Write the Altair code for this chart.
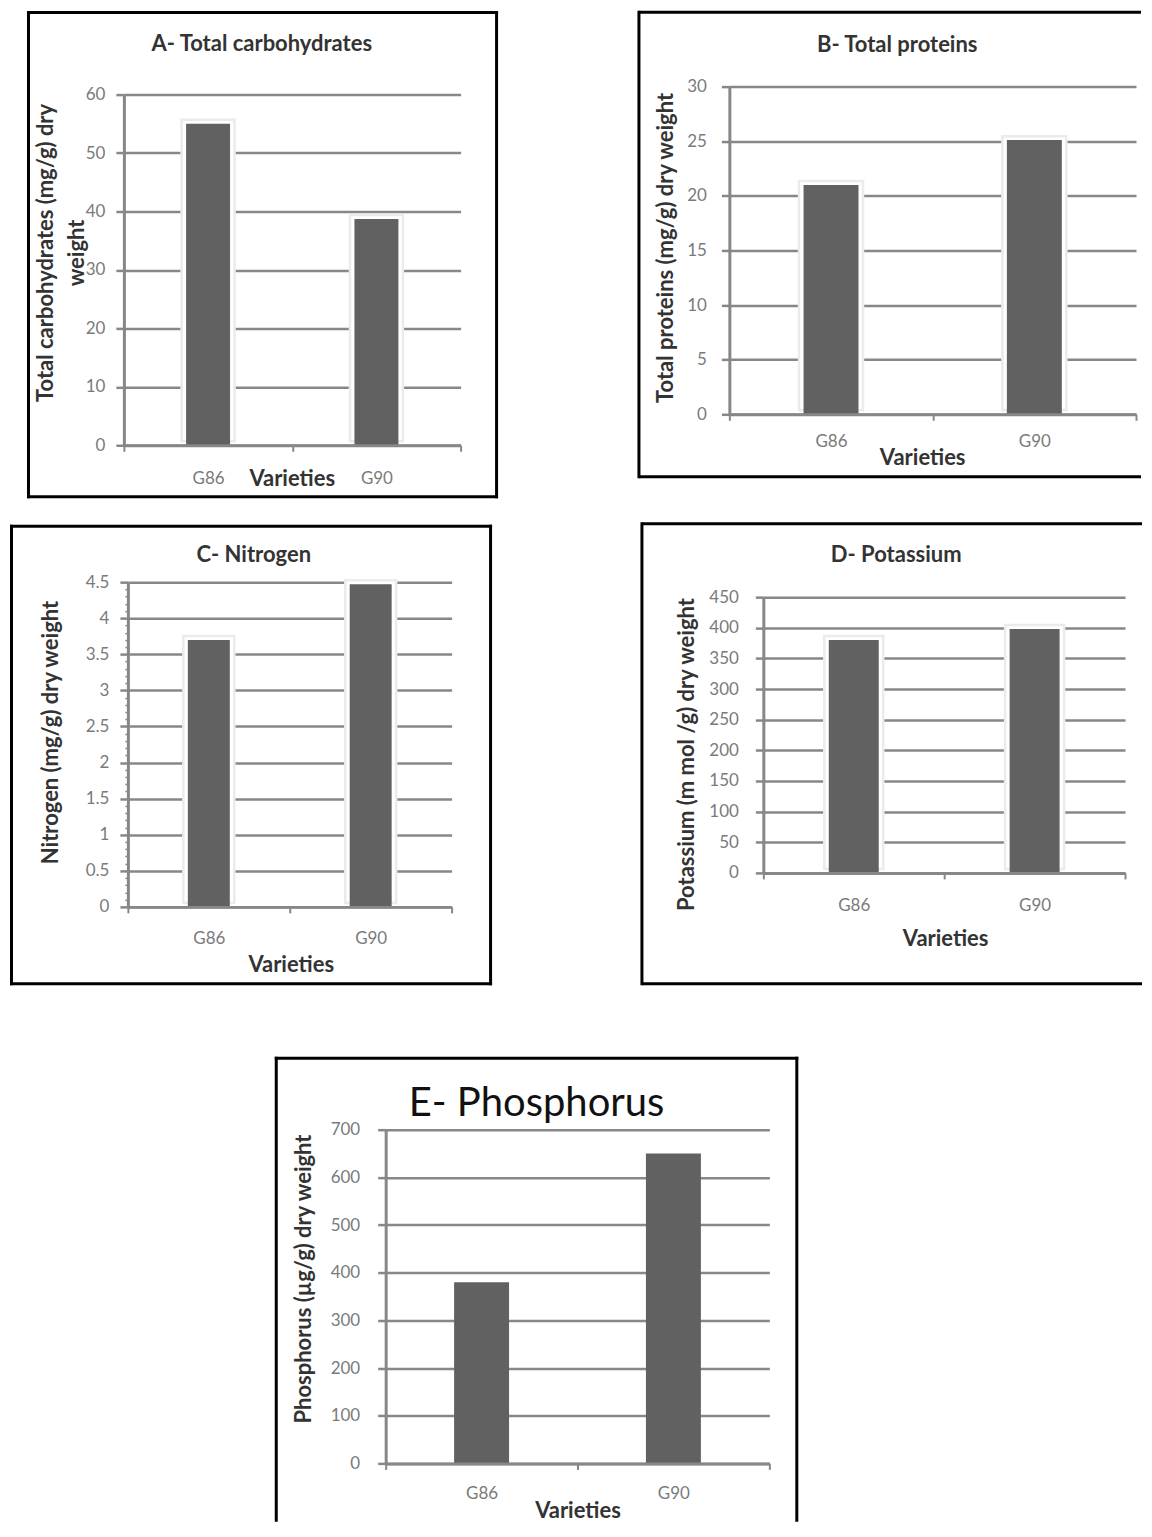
import altair as alt
import pandas as pd

# ---------------- data ----------------
varieties = ["G86", "G90"]
carbohydrates = [55.0, 38.7]
proteins = [21.0, 25.1]
nitrogen = [3.70, 4.47]
potassium = [380, 398]
phosphorus = [380, 650]

carb_ticks = [0, 10, 20, 30, 40, 50, 60]
prot_ticks = [0, 5, 10, 15, 20, 25, 30]
nit_ticks = [0, 0.5, 1, 1.5, 2, 2.5, 3, 3.5, 4, 4.5]
pot_ticks = [0, 50, 100, 150, 200, 250, 300, 350, 400, 450]
phos_ticks = [0, 100, 200, 300, 400, 500, 600, 700]

titles = ["A- Total carbohydrates", "B- Total proteins", "C- Nitrogen",
          "D- Potassium", "E- Phosphorus"]
y_titles = [["Total carbohydrates (mg/g) dry", "weight"],
            "Total proteins (mg/g) dry weight",
            "Nitrogen (mg/g) dry weight",
            "Potassium (m mol /g) dry weight",
            "Phosphorus (\u00b5g/g) dry weight"]
x_title = "Varieties"

# ---------------- styling ----------------
FONT = "Lato"
GRID = "#878787"
BAR = "#616161"
LABEL = "#7a7a7a"
TEXT = "#333333"
RIGHT = 1142  # right end of the open frames (page x)

one = pd.DataFrame({"k": [0]})


def rect_frame(x1, y1, x2, y2):
    return [(x1, y1, x2, y1), (x2, y1, x2, y2), (x2, y2, x1, y2), (x1, y2, x1, y1)]


def open_right_frame(x1, y1, y2, xr):
    return [(xr, y1, x1, y1), (x1, y1, x1, y2), (x1, y2, xr, y2)]


# page-coordinate layout of each panel (cells start 1px in: the wrapper spacer)
LA = dict(plot=(124, 92, 337, 351), cell=(9, 9, 568, 508),
          frame=rect_frame(28.5, 9.8, 497, 494.5), title=(262, 41),
          ytitle=(46, 250), ylab_pad=11, xlab_y=476, xtitle=(292, 476), bw=44)
LB = dict(plot=(730, 86, 407, 328), cell=(569, 9, 1144, 508),
          frame=open_right_frame(639.5, 11.5, 476.5, RIGHT), title=(898, 44),
          ytitle=(666, 247), ylab_pad=15, xlab_y=441, xtitle=(923, 457), bw=55)
LC = dict(plot=(127, 580, 324, 325), cell=(9, 509, 568, 1020),
          frame=rect_frame(10.5, 524, 490, 982), title=(253, 553),
          ytitle=(50, 730), ylab_pad=11, xlab_y=937, xtitle=(290, 963), bw=42)
LD = dict(plot=(763, 595, 362, 276), cell=(569, 509, 1144, 1020),
          frame=open_right_frame(641.5, 521.5, 982, RIGHT), title=(896, 553),
          ytitle=(686, 752), ylab_pad=17, xlab_y=904, xtitle=(945, 937), bw=50)
LE = dict(plot=(386, 1128, 384, 334), cell=(9, 1021, 1144, 1521),
          frame=[(276.5, 1519, 276.5, 1056.5), (276.5, 1056.5, 797.5, 1056.5),
                 (797.5, 1056.5, 797.5, 1519)],
          title=(537, 1102), ytitle=(304, 1277), ylab_pad=18, xlab_y=1492,
          xtitle=(578, 1509), bw=55)


def make_panel(values, ticks, title, ytitle, L, minor=None, halo=True,
               title_size=22, title_weight="bold", title_color=TEXT):
    x0, y0, w, h = L["plot"]

    def lx(X):
        return X - x0

    def ly(Y):
        return Y - y0

    df = pd.DataFrame({"variety": varieties, "value": values})

    xaxis = alt.Axis(
        labelAngle=0, labelFont=FONT, labelFontSize=17, labelColor=LABEL,
        labelBaseline="middle", labelPadding=L["xlab_y"] - (y0 + h) - 6,
        tickBand="extent", tickSize=6, tickColor=GRID, tickWidth=2,
        domainColor=GRID, domainWidth=3, grid=False,
        title=x_title, titleFont=FONT, titleFontSize=22, titleFontWeight="bold",
        titleColor=TEXT, titleX=lx(L["xtitle"][0]),
        titleY=L["xtitle"][1] - (y0 + h), titleAlign="center",
        titleBaseline="middle", zindex=1,
    )
    ya = dict(
        values=ticks, labelExpr="format(datum.value, '~r')",
        labelFont=FONT, labelFontSize=17,
        labelColor=LABEL, labelPadding=L["ylab_pad"], tickSize=8,
        tickColor=GRID, tickWidth=2.5, domainColor=GRID, domainWidth=3,
        grid=True, gridColor=GRID, gridWidth=2.5,
        title=ytitle, titleFont=FONT, titleFontSize=22, titleFontWeight="bold",
        titleColor=TEXT, titleAngle=270, titleAlign="center",
        titleBaseline="middle", titleX=lx(L["ytitle"][0]),
        titleY=ly(L["ytitle"][1]), titleLineHeight=31,
    )
    if minor is not None:
        test = "abs(datum.value*2 - round(datum.value*2)) < 0.001"
        ya.update(
            values=minor,
            labelExpr=test + " ? format(datum.value, '~r') : ''",
            gridOpacity={"condition": {"test": test, "value": 1}, "value": 0},
            tickSize={"condition": {"test": test, "value": 8}, "value": 3},
            tickWidth={"condition": {"test": test, "value": 2.5}, "value": 1.5},
        )

    base = alt.Chart(df).encode(
        x=alt.X("variety:N", sort=varieties,
                scale=alt.Scale(paddingInner=0, paddingOuter=0), axis=xaxis),
        y=alt.Y("value:Q", scale=alt.Scale(domain=[0, ticks[-1]], nice=False),
                axis=alt.Axis(**ya)),
    )

    cx1, cy1, cx2, cy2 = L["cell"]
    layers = [
        alt.Chart(one).mark_rect(fill="white", opacity=0).encode(
            x=alt.value(lx(cx1)), x2=alt.value(lx(cx2)),
            y=alt.value(ly(cy1)), y2=alt.value(ly(cy2)))
    ]
    bw = L["bw"]
    if halo:
        layers.append(base.mark_bar(size=bw + 9, color="white", stroke="#ebebeb",
                                    strokeWidth=2.5, yOffset=-4))
    layers.append(base.mark_bar(size=bw, color=BAR))
    for (X1, Y1, X2, Y2) in L["frame"]:
        cap = "butt" if RIGHT in (X1, X2) else "square"
        layers.append(
            alt.Chart(one).mark_rule(color="black", strokeWidth=3,
                                     strokeCap=cap).encode(
                x=alt.value(lx(X1)), x2=alt.value(lx(X2)),
                y=alt.value(ly(Y1)), y2=alt.value(ly(Y2))))
    tx, ty = L["title"]
    layers.append(
        alt.Chart(one).mark_text(text=title, font=FONT, fontSize=title_size,
                                 fontWeight=title_weight, color=title_color,
                                 align="center", baseline="middle").encode(
            x=alt.value(lx(tx)), y=alt.value(ly(ty))))
    return alt.layer(*layers).properties(width=w, height=h)


def spacer():
    return alt.Chart(one).mark_rect(opacity=0).encode(
        x=alt.value(0), x2=alt.value(1), y=alt.value(0), y2=alt.value(1)
    ).properties(width=1, height=1)


def wrap(panel):
    # a 1px spacer above and to the left pins the panel's outer box, not its plot area
    return alt.vconcat(spacer(), alt.hconcat(spacer(), panel, spacing=0), spacing=0)


nit_minor = [round(i * 0.1, 1) for i in range(46)]

A = make_panel(carbohydrates, carb_ticks, titles[0], y_titles[0], LA)
B = make_panel(proteins, prot_ticks, titles[1], y_titles[1], LB)
C = make_panel(nitrogen, nit_ticks, titles[2], y_titles[2], LC, minor=nit_minor)
D = make_panel(potassium, pot_ticks, titles[3], y_titles[3], LD)
E = make_panel(phosphorus, phos_ticks, titles[4], y_titles[4], LE, halo=False,
               title_size=40, title_weight="normal", title_color="#111111")

chart = (
    alt.vconcat(
        alt.hconcat(wrap(A), wrap(B), spacing=0),
        alt.hconcat(wrap(C), wrap(D), spacing=0),
        wrap(E),
        spacing=0,
    )
    .properties(padding=0, background="white")
    .configure_view(stroke=None)
)

chart.save("out.html", embed_options={"renderer": "svg", "actions": False})
